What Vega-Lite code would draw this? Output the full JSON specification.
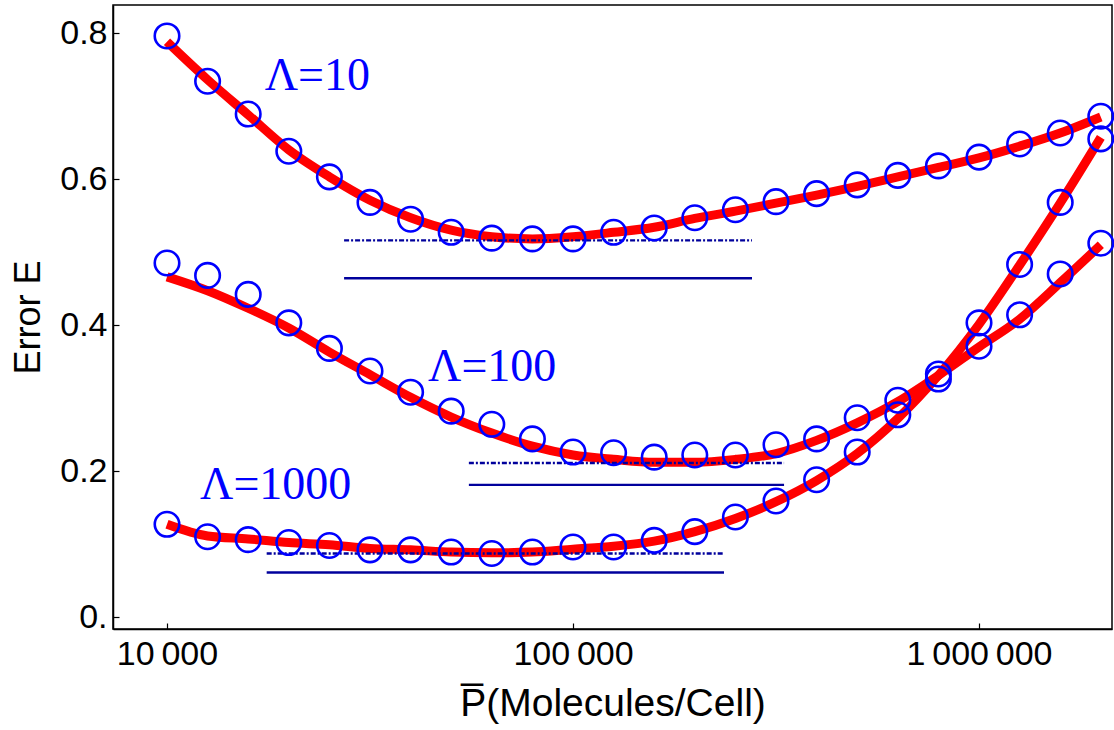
{
  "$schema": "https://vega.github.io/schema/vega-lite/v6.json",
  "width": 999,
  "height": 624,
  "autosize": "none",
  "padding": {"left": 113, "top": 5, "right": 2, "bottom": 101},
  "background": "white",
  "config": {
    "view": {"stroke": "black", "strokeWidth": 1.5},
    "axis": {
      "domainColor": "black", "domainWidth": 1.5, "tickColor": "black", "tickWidth": 1.2,
      "labelColor": "black", "labelFont": "Liberation Sans", "titleFont": "Liberation Sans",
      "titleColor": "black", "titleFontWeight": "normal", "grid": false
    }
  },
  "datasets": {
    "points": [
      {"P": 10000, "E": 0.796, "L": "10"}, {"P": 12589, "E": 0.734, "L": "10"}, {"P": 15849, "E": 0.689, "L": "10"}, {"P": 19953, "E": 0.638, "L": "10"},
      {"P": 25119, "E": 0.603, "L": "10"}, {"P": 31623, "E": 0.568, "L": "10"}, {"P": 39811, "E": 0.545, "L": "10"}, {"P": 50119, "E": 0.527, "L": "10"},
      {"P": 63096, "E": 0.519, "L": "10"}, {"P": 79433, "E": 0.518, "L": "10"}, {"P": 100000, "E": 0.518, "L": "10"}, {"P": 125893, "E": 0.527, "L": "10"},
      {"P": 158489, "E": 0.533, "L": "10"}, {"P": 199526, "E": 0.547, "L": "10"}, {"P": 251189, "E": 0.558, "L": "10"}, {"P": 316228, "E": 0.569, "L": "10"},
      {"P": 398107, "E": 0.580, "L": "10"}, {"P": 501187, "E": 0.592, "L": "10"}, {"P": 630957, "E": 0.605, "L": "10"}, {"P": 794328, "E": 0.618, "L": "10"},
      {"P": 1000000, "E": 0.630, "L": "10"}, {"P": 1258925, "E": 0.648, "L": "10"}, {"P": 1584893, "E": 0.663, "L": "10"}, {"P": 1995262, "E": 0.686, "L": "10"},
      {"P": 10000, "E": 0.485, "L": "100"}, {"P": 12589, "E": 0.468, "L": "100"}, {"P": 15849, "E": 0.442, "L": "100"}, {"P": 19953, "E": 0.403, "L": "100"},
      {"P": 25119, "E": 0.368, "L": "100"}, {"P": 31623, "E": 0.337, "L": "100"}, {"P": 39811, "E": 0.308, "L": "100"}, {"P": 50119, "E": 0.282, "L": "100"},
      {"P": 63096, "E": 0.264, "L": "100"}, {"P": 79433, "E": 0.244, "L": "100"}, {"P": 100000, "E": 0.226, "L": "100"}, {"P": 125893, "E": 0.225, "L": "100"},
      {"P": 158489, "E": 0.219, "L": "100"}, {"P": 199526, "E": 0.222, "L": "100"}, {"P": 251189, "E": 0.222, "L": "100"}, {"P": 316228, "E": 0.236, "L": "100"},
      {"P": 398107, "E": 0.244, "L": "100"}, {"P": 501187, "E": 0.273, "L": "100"}, {"P": 630957, "E": 0.297, "L": "100"}, {"P": 794328, "E": 0.333, "L": "100"},
      {"P": 1000000, "E": 0.371, "L": "100"}, {"P": 1258925, "E": 0.414, "L": "100"}, {"P": 1584893, "E": 0.470, "L": "100"}, {"P": 1995262, "E": 0.512, "L": "100"},
      {"P": 10000, "E": 0.127, "L": "1000"}, {"P": 12589, "E": 0.110, "L": "1000"}, {"P": 15849, "E": 0.106, "L": "1000"}, {"P": 19953, "E": 0.102, "L": "1000"},
      {"P": 25119, "E": 0.098, "L": "1000"}, {"P": 31623, "E": 0.092, "L": "1000"}, {"P": 39811, "E": 0.092, "L": "1000"}, {"P": 50119, "E": 0.089, "L": "1000"},
      {"P": 63096, "E": 0.087, "L": "1000"}, {"P": 79433, "E": 0.089, "L": "1000"}, {"P": 100000, "E": 0.096, "L": "1000"}, {"P": 125893, "E": 0.096, "L": "1000"},
      {"P": 158489, "E": 0.105, "L": "1000"}, {"P": 199526, "E": 0.117, "L": "1000"}, {"P": 251189, "E": 0.137, "L": "1000"}, {"P": 316228, "E": 0.159, "L": "1000"},
      {"P": 398107, "E": 0.188, "L": "1000"}, {"P": 501187, "E": 0.226, "L": "1000"}, {"P": 630957, "E": 0.277, "L": "1000"}, {"P": 794328, "E": 0.326, "L": "1000"},
      {"P": 1000000, "E": 0.403, "L": "1000"}, {"P": 1258925, "E": 0.483, "L": "1000"}, {"P": 1584893, "E": 0.568, "L": "1000"}, {"P": 1995262, "E": 0.655, "L": "1000"}
    ],
    "fits": [
      {"P": 10000, "E": 0.788, "L": "10"}, {"P": 12589, "E": 0.736, "L": "10"}, {"P": 15849, "E": 0.688, "L": "10"}, {"P": 19953, "E": 0.640, "L": "10"},
      {"P": 25119, "E": 0.603, "L": "10"}, {"P": 31623, "E": 0.571, "L": "10"}, {"P": 39811, "E": 0.547, "L": "10"}, {"P": 50119, "E": 0.530, "L": "10"},
      {"P": 63096, "E": 0.521, "L": "10"}, {"P": 79433, "E": 0.518, "L": "10"}, {"P": 100000, "E": 0.521, "L": "10"}, {"P": 125893, "E": 0.527, "L": "10"},
      {"P": 158489, "E": 0.534, "L": "10"}, {"P": 199526, "E": 0.546, "L": "10"}, {"P": 251189, "E": 0.556, "L": "10"}, {"P": 316228, "E": 0.567, "L": "10"},
      {"P": 398107, "E": 0.578, "L": "10"}, {"P": 501187, "E": 0.590, "L": "10"}, {"P": 630957, "E": 0.603, "L": "10"}, {"P": 794328, "E": 0.616, "L": "10"},
      {"P": 1000000, "E": 0.629, "L": "10"}, {"P": 1258925, "E": 0.645, "L": "10"}, {"P": 1584893, "E": 0.663, "L": "10"}, {"P": 1995262, "E": 0.685, "L": "10"},
      {"P": 10000, "E": 0.466, "L": "100"}, {"P": 12589, "E": 0.447, "L": "100"}, {"P": 15849, "E": 0.423, "L": "100"}, {"P": 19953, "E": 0.396, "L": "100"},
      {"P": 25119, "E": 0.363, "L": "100"}, {"P": 31623, "E": 0.332, "L": "100"}, {"P": 39811, "E": 0.301, "L": "100"}, {"P": 50119, "E": 0.274, "L": "100"},
      {"P": 63096, "E": 0.252, "L": "100"}, {"P": 79433, "E": 0.234, "L": "100"}, {"P": 100000, "E": 0.222, "L": "100"}, {"P": 125893, "E": 0.216, "L": "100"},
      {"P": 158489, "E": 0.212, "L": "100"}, {"P": 199526, "E": 0.212, "L": "100"}, {"P": 251189, "E": 0.216, "L": "100"}, {"P": 316228, "E": 0.224, "L": "100"},
      {"P": 398107, "E": 0.242, "L": "100"}, {"P": 501187, "E": 0.266, "L": "100"}, {"P": 630957, "E": 0.295, "L": "100"}, {"P": 794328, "E": 0.331, "L": "100"},
      {"P": 1000000, "E": 0.370, "L": "100"}, {"P": 1258925, "E": 0.408, "L": "100"}, {"P": 1584893, "E": 0.458, "L": "100"}, {"P": 1995262, "E": 0.510, "L": "100"},
      {"P": 10000, "E": 0.127, "L": "1000"}, {"P": 12589, "E": 0.111, "L": "1000"}, {"P": 15849, "E": 0.107, "L": "1000"}, {"P": 19953, "E": 0.102, "L": "1000"},
      {"P": 25119, "E": 0.099, "L": "1000"}, {"P": 31623, "E": 0.094, "L": "1000"}, {"P": 39811, "E": 0.092, "L": "1000"}, {"P": 50119, "E": 0.089, "L": "1000"},
      {"P": 63096, "E": 0.088, "L": "1000"}, {"P": 79433, "E": 0.089, "L": "1000"}, {"P": 100000, "E": 0.093, "L": "1000"}, {"P": 125893, "E": 0.097, "L": "1000"},
      {"P": 158489, "E": 0.104, "L": "1000"}, {"P": 199526, "E": 0.117, "L": "1000"}, {"P": 251189, "E": 0.135, "L": "1000"}, {"P": 316228, "E": 0.158, "L": "1000"},
      {"P": 398107, "E": 0.187, "L": "1000"}, {"P": 501187, "E": 0.224, "L": "1000"}, {"P": 630957, "E": 0.272, "L": "1000"}, {"P": 794328, "E": 0.331, "L": "1000"},
      {"P": 1000000, "E": 0.401, "L": "1000"}, {"P": 1258925, "E": 0.482, "L": "1000"}, {"P": 1584893, "E": 0.567, "L": "1000"}, {"P": 1995262, "E": 0.657, "L": "1000"}
    ],
    "refs": [
      {"P1": 27300, "P2": 276000, "E": 0.516, "L": "10", "kind": "dashdot"},
      {"P1": 27300, "P2": 276000, "E": 0.464, "L": "10", "kind": "solid"},
      {"P1": 55400, "P2": 331000, "E": 0.211, "L": "100", "kind": "dashdot"},
      {"P1": 55400, "P2": 331000, "E": 0.181, "L": "100", "kind": "solid"},
      {"P1": 17600, "P2": 235500, "E": 0.087, "L": "1000", "kind": "dashdot"},
      {"P1": 17600, "P2": 235500, "E": 0.061, "L": "1000", "kind": "solid"}
    ],
    "labels": [
      {"P": 17400, "E": 0.722, "text": "Λ=10"},
      {"P": 43950, "E": 0.323, "text": "Λ=100"},
      {"P": 12060, "E": 0.162, "text": "Λ=1000"}
    ]
  },
  "layer": [
    {
      "data": {"name": "fits"},
      "mark": {"type": "line", "color": "#ff0000", "strokeWidth": 9, "interpolate": "monotone", "strokeCap": "butt"},
      "encoding": {
        "x": {"field": "P", "type": "quantitative", "scale": {"type": "log", "domain": [7362, 2126000], "nice": false},
          "axis": {"values": [10000, 100000, 1000000], "tickSize": -6, "labelPadding": 14, "labelFontSize": 34,
            "labelExpr": "datum.value == 10000 ? '10\u2009000' : datum.value == 100000 ? '100\u2009000' : '1\u2009000\u2009000'",
            "title": "P̅(Molecules/Cell)", "titleFontSize": 39, "titlePadding": 13}},
        "y": {"field": "E", "type": "quantitative", "scale": {"domain": [-0.0164, 0.8384], "nice": false, "zero": false},
          "axis": {"values": [0, 0.2, 0.4, 0.6, 0.8], "tickSize": -6, "labelPadding": 12, "labelFontSize": 34,
            "labelExpr": "datum.value == 0 ? '0.' : format(datum.value, '.1f')",
            "title": "Error E", "titleFontSize": 36, "titlePadding": 12}},
        "detail": {"field": "L", "type": "nominal"}
      }
    },
    {
      "data": {"name": "refs"},
      "mark": {"type": "rule", "color": "#00009c", "strokeWidth": 2.4},
      "encoding": {
        "x": {"field": "P1", "type": "quantitative"},
        "x2": {"field": "P2"},
        "y": {"field": "E", "type": "quantitative"},
        "strokeDash": {"field": "kind", "type": "nominal", "scale": {"domain": ["dashdot", "solid"], "range": [[5, 2, 2, 2], [1, 0]]}, "legend": null}
      }
    },
    {
      "data": {"name": "points"},
      "mark": {"type": "point", "shape": "circle", "filled": false, "color": "#0000ff", "strokeWidth": 2.6, "size": 600, "opacity": 1},
      "encoding": {
        "x": {"field": "P", "type": "quantitative"},
        "y": {"field": "E", "type": "quantitative"}
      }
    },
    {
      "data": {"name": "labels"},
      "mark": {"type": "text", "font": "Liberation Serif", "fontSize": 46, "color": "#0000ff", "align": "left", "baseline": "alphabetic"},
      "encoding": {
        "x": {"field": "P", "type": "quantitative"},
        "y": {"field": "E", "type": "quantitative"},
        "text": {"field": "text", "type": "nominal"}
      }
    }
  ]
}
